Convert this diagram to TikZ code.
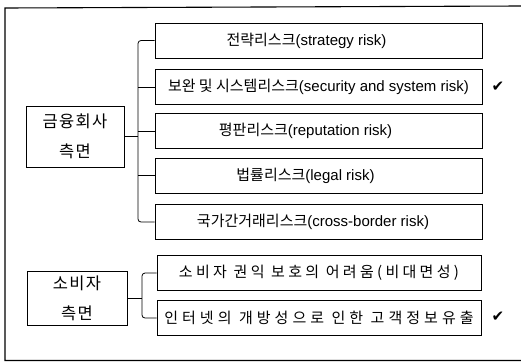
\documentclass[tikz,border=0pt]{standalone}
\usepackage{fontspec}
\setmainfont{Liberation Sans}
\newfontfamily\kr{Noto Sans CJK KR}
\newfontfamily\krw[LetterSpace=22]{Noto Sans CJK KR}
\newfontfamily\krww[LetterSpace=27]{Noto Sans CJK KR}
\newfontfamily\krs[LetterSpace=8]{Noto Sans CJK KR}
\newfontfamily\sym{DejaVu Sans}
\newcommand\lat{\rmfamily}
\begin{document}
\begin{tikzpicture}[x=1pt,y=-1pt,
  riskbox/.style={draw, line width=0.9pt, minimum width=327pt, minimum height=35pt, inner sep=0pt, font=\fontsize{15}{16}\selectfont\kr},
  sidebox/.style={draw, line width=0.9pt, inner sep=0pt, align=center, font=\fontsize{16.5}{30}\selectfont\krs},
  conn/.style={line width=0.8pt},
  frameline/.style={line width=1.1pt},
  tick/.style={font=\fontsize{15}{15}\selectfont\sym}]
\useasboundingbox (0,0) rectangle (521,362);
\draw[frameline] (521,6) -- (5,8) -- (5,360.5) -- (521,360.5);

\node[riskbox] (b1) at (318.5,40.5) {전략리스크\lat(strategy risk)\hspace*{24pt}};
\node[riskbox] (b2) at (318.5,87) {보완 및 시스템리스크\lat(security and system risk)};
\node[riskbox] (b3) at (318.5,131) {평판리스크\lat(reputation risk)\hspace*{26pt}};
\node[riskbox] (b4) at (318.5,175.5) {법률리스크\lat(legal risk)\hspace*{26pt}};
\node[riskbox] (b5) at (318.5,222) {국가간거래리스크\lat(cross-border risk)\hspace*{11pt}};
\node[riskbox, minimum width=324pt] (b6) at (319,273) {\krw 소비자 권익 보호의 어려움(비대면성)};
\node[riskbox, minimum width=324pt] (b7) at (319,318) {\krww 인터넷의 개방성으로 인한 고객정보유출};

\node[sidebox, minimum width=98pt, minimum height=61pt] (l1) at (75,136.5) {금융회사\\측면};
\node[sidebox, minimum width=100pt, minimum height=54pt] (l2) at (77,298) {소비자\\측면};

\node[tick] (c1) at (498,87) {✔};
\node[tick] (c2) at (498,317) {✔};

\coordinate (bus1) at (138,0);
\coordinate (bus2) at (142,0);
\draw[conn, rounded corners=3pt] (b1.west) -- (b1.west -| bus1) -- (b5.west -| bus1) -- (b5.west);
\foreach \b in {b2,b3,b4} \draw[conn] (\b.west -| bus1) -- (\b.west);
\draw[conn] (l1.east) -- (l1.east -| bus1);
\draw[conn, rounded corners=3pt] (b6.west) -- (b6.west -| bus2) -- (b7.west -| bus2) -- (b7.west);
\draw[conn] (l2.east) -- (l2.east -| bus2);
\end{tikzpicture}
\end{document}
